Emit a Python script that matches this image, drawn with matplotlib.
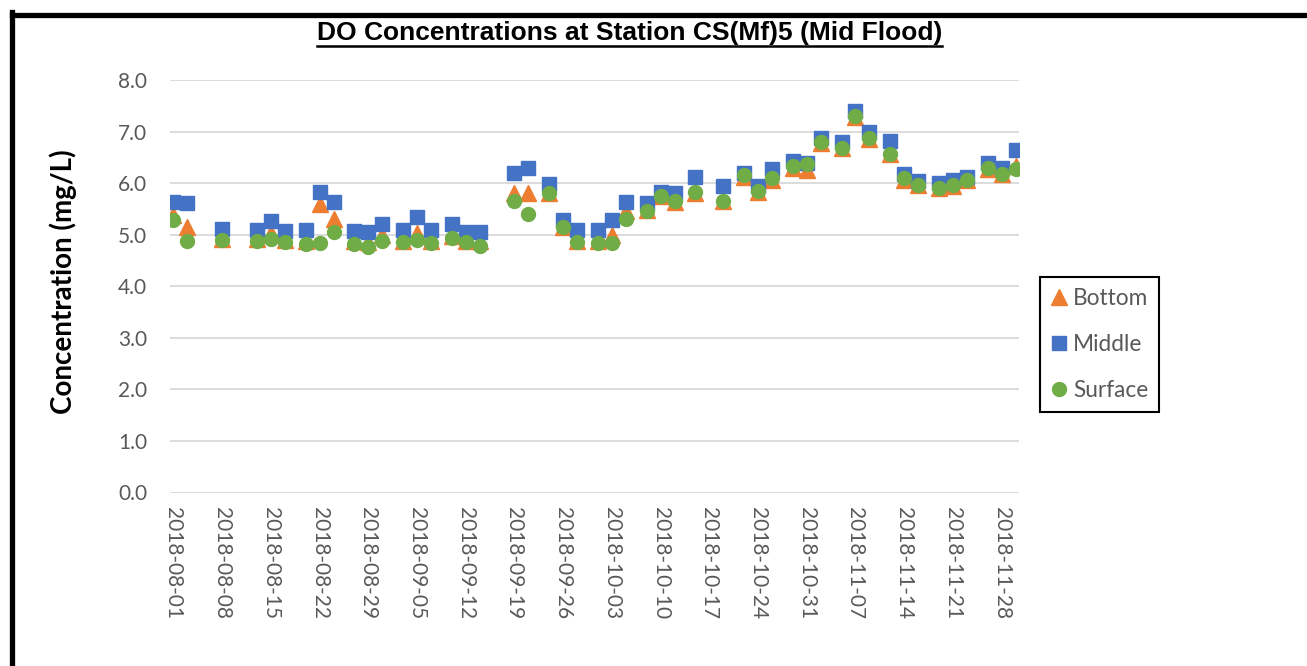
import matplotlib.pyplot as plt
import matplotlib.dates as mdates
from matplotlib.lines import Line2D
import pandas as pd

# sampling dates (2018)
dates = ["08-01", "08-03", "08-08", "08-13", "08-15", "08-17", "08-20", "08-22",
         "08-24", "08-27", "08-29", "08-31", "09-03", "09-05", "09-07", "09-10",
         "09-12", "09-14", "09-19", "09-21", "09-24", "09-26", "09-28", "10-01",
         "10-03", "10-05", "10-08", "10-10", "10-12", "10-15", "10-19", "10-22",
         "10-24", "10-26", "10-29", "10-31", "11-02", "11-05", "11-07", "11-09",
         "11-12", "11-14", "11-16", "11-19", "11-21", "11-23", "11-26", "11-28",
         "11-30"]

bottom = [5.38, 5.15, 4.92, 4.92, 5.04, 4.90, 4.88, 5.59, 5.31, 4.88, 4.85, 5.00,
          4.88, 5.03, 4.88, 4.98, 4.88, 4.88, 5.81, 5.80, 5.80, 5.15, 4.88, 4.88,
          5.00, 5.45, 5.47, 5.75, 5.64, 5.80, 5.65, 6.12, 5.83, 6.07, 6.30, 6.25,
          6.77, 6.68, 7.28, 6.86, 6.57, 6.07, 5.97, 5.90, 5.95, 6.07, 6.28, 6.17,
          6.33]
middle = [5.64, 5.61, 5.12, 5.09, 5.26, 5.07, 5.09, 5.83, 5.64, 5.07, 5.05, 5.20,
          5.10, 5.35, 5.09, 5.20, 5.05, 5.05, 6.19, 6.30, 5.99, 5.29, 5.09, 5.09,
          5.29, 5.64, 5.61, 5.83, 5.80, 6.11, 5.95, 6.20, 5.95, 6.27, 6.42, 6.39,
          6.87, 6.80, 7.40, 7.00, 6.81, 6.17, 6.05, 6.01, 6.06, 6.11, 6.39, 6.29,
          6.64]
surface = [5.28, 4.87, 4.89, 4.87, 4.91, 4.86, 4.81, 4.83, 5.05, 4.82, 4.77, 4.87,
           4.85, 4.89, 4.83, 4.94, 4.85, 4.79, 5.65, 5.41, 5.81, 5.14, 4.85, 4.83,
           4.83, 5.30, 5.46, 5.75, 5.65, 5.82, 5.66, 6.15, 5.85, 6.09, 6.33, 6.37,
           6.79, 6.69, 7.30, 6.87, 6.57, 6.09, 5.97, 5.90, 5.96, 6.07, 6.30, 6.17,
           6.27]

x = pd.to_datetime(["2018-" + d for d in dates])

fig = plt.figure(figsize=(13.07, 6.66), dpi=100)
W, H = 1307, 666
ax = fig.add_axes([170 / W, 173.5 / H, 849 / W, 412.5 / H])

gray = "#595959"
ax.plot(x, bottom, "^", color="#ED7D31", ms=11.5, label="Bottom", zorder=3)
ax.plot(x, middle, "s", color="#4472C4", ms=10.5, label="Middle", zorder=4)
ax.plot(x, surface, "o", color="#70AD47", ms=10, label="Surface", zorder=5)

ax.set_ylim(0, 8)
ax.set_yticks([i for i in range(9)])
ax.yaxis.set_major_formatter(plt.FormatStrFormatter("%.1f"))
ax.set_xlim(pd.Timestamp("2018-07-31 12:00"), pd.Timestamp("2018-11-30 12:00"))
ticks = pd.date_range("2018-08-01", "2018-11-28", freq="7D")
ax.set_xticks(ticks)
ax.xaxis.set_major_formatter(mdates.DateFormatter("%Y-%m-%d"))

ax.grid(axis="y", color="#D9D9D9", lw=1.3)
ax.set_axisbelow(True)
for s in ax.spines.values():
    s.set_visible(False)
ax.tick_params(length=0, colors=gray, labelsize=15)
ax.tick_params(axis="y", pad=16.5)
ax.tick_params(axis="x", pad=10.5)
for lab in ax.get_xticklabels():
    lab.set_rotation(-90)
    lab.set_fontfamily("Lato")
for lab in ax.get_yticklabels():
    lab.set_fontfamily("Lato")

ax.set_ylabel("Concentration (mg/L)", fontsize=20, fontweight="bold",
              fontfamily="Lato")
ax.yaxis.set_label_coords(-93 / 849, 0.51)

leg = ax.legend(loc="upper left", bbox_to_anchor=(1040 / W, 1 - 277 / H),
                bbox_transform=fig.transFigure, borderaxespad=0,
                fancybox=False, edgecolor="black", framealpha=1,
                prop={"family": "Lato", "size": 16.3}, labelspacing=1.1,
                handlelength=0.7, handletextpad=0.25, borderpad=0.5)
leg.get_frame().set_linewidth(1.5)
for t in leg.get_texts():
    t.set_color(gray)

title = fig.text(629.5 / W, 1 - 33 / H,
                 "DO Concentrations at Station CS(Mf)5 (Mid Flood)",
                 ha="center", va="center", fontsize=19, fontweight="bold",
                 fontfamily="Liberation Sans")
# underline the title
fig.canvas.draw()
bb = title.get_window_extent(fig.canvas.get_renderer())
uy = (bb.y0 - 1) / H
fig.add_artist(Line2D([bb.x0 / W, bb.x1 / W], [uy, uy], color="black", lw=1.8))

# thick border on top and left
fig.add_artist(Line2D([11.5 / W, 1], [1 - 14.5 / H, 1 - 14.5 / H], color="black", lw=3.8))
fig.add_artist(Line2D([11.5 / W, 11.5 / W], [0, 1 - 12 / H], color="black", lw=3.8))

fig.savefig("out.png", dpi=100)
